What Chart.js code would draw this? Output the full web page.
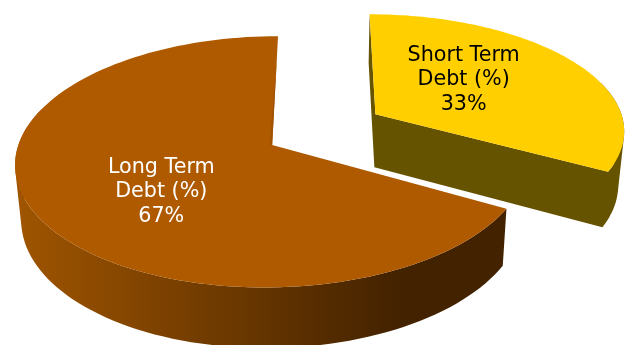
<!DOCTYPE html>
<html>
<head>
<meta charset="utf-8">
<title>Debt split</title>
<script src="https://cdn.jsdelivr.net/npm/chart.js@4"></script>
<style>
  html, body { margin: 0; padding: 0; background: #fff; overflow: hidden; }
  canvas { display: block; }
</style>
</head>
<body>
<canvas id="debtPie" width="628" height="345"></canvas>
<script>
// data
const categories = [['Short Term', 'Debt (%)'], ['Long Term', 'Debt (%)']];
const shares = [33, 67];

const sliceColors = ['#ffcf00', '#b05a00'];
const labelColors = ['#000000', '#ffffff'];

// perspective of the pie plane, in units of the pie radius
const topPlane = { x0: 322, y0: 131, a: 250, b: 119.7, k: 0.131 };
const bottomPlane = { x0: 322, y0: 184.7, a: 245, b: 125, k: 0.131 };

// small per-slice corrections: the far slice sits a bit flatter and higher
const sliceTweaks = [
  { depth: 0.97, dx: 1, dy: -2, labelDx: -6, labelDy: 2 },
  { depth: 1, dx: 0, dy: 0, labelDx: 0, labelDy: 3 }
];

function project(plane, u, v) {
  const s = 1 / (1 + plane.k * v);
  return { x: plane.x0 + plane.a * u * s, y: plane.y0 - plane.b * v * s };
}

// point on the rim (or inside, with r < 1) of an arc element, canvas angle
function rimPoint(plane, arc, angle, r, tweak) {
  const mid = (arc.startAngle + arc.endAngle) / 2;
  const off = arc.options.offset / arc.outerRadius;
  const u = off * Math.cos(mid) + r * Math.cos(angle);
  const v = -(off * Math.sin(mid) + r * tweak.depth * Math.sin(angle));
  const p = project(plane, u, v);
  return { x: p.x + tweak.dx, y: p.y + tweak.dy };
}

function tracePoly(ctx, pts) {
  ctx.moveTo(pts[0].x, pts[0].y);
  pts.slice(1).forEach(p => ctx.lineTo(p.x, p.y));
  ctx.closePath();
}

function polyArea(pts) {
  let area = 0;
  pts.forEach((p, i) => {
    const q = pts[(i + 1) % pts.length];
    area += p.x * q.y - q.x * p.y;
  });
  return area;
}

// same winding for every quad, so one fill covers them without seams
function traceQuad(ctx, quad) {
  if (polyArea(quad) < 0) quad.reverse();
  tracePoly(ctx, quad);
}

function wallFill(ctx, index) {
  if (index === 0) return '#665300';
  const g = ctx.createLinearGradient(15, 0, 400, 0);
  g.addColorStop(0, '#a05500');
  g.addColorStop(1, '#432200');
  return g;
}

const pie3d = {
  id: 'pie3d',
  beforeDatasetsDraw(chart) {
    const ctx = chart.ctx;
    const arcs = chart.getDatasetMeta(0).data;

    // far slice first, the near one paints over it
    for (let i = arcs.length - 1; i >= 0; i--) {
      drawSlice(ctx, arcs[i], i);
    }
    arcs.forEach((arc, i) => drawLabel(ctx, arc, i));
    return false;
  }
};

function drawSlice(ctx, arc, index) {
  const tweak = sliceTweaks[index];
  const steps = 120;
  const angles = [];
  for (let n = 0; n <= steps; n++) {
    angles.push(arc.startAngle + (arc.endAngle - arc.startAngle) * n / steps);
  }

  ctx.beginPath();

  // straight faces along the cut edges, only the short slice shows them
  if (index === 0) {
    [arc.startAngle, arc.endAngle].forEach(angle => {
      traceQuad(ctx, [
        rimPoint(topPlane, arc, angle, 0, tweak),
        rimPoint(topPlane, arc, angle, 1, tweak),
        rimPoint(bottomPlane, arc, angle, 1, tweak),
        rimPoint(bottomPlane, arc, angle, 0, tweak)
      ]);
    });
  }

  // outer wall; the back of it is hidden under the top face anyway
  for (let n = 0; n < steps; n++) {
    if (Math.sin(angles[n]) < -0.3) continue;
    traceQuad(ctx, [
      rimPoint(topPlane, arc, angles[n], 1, tweak),
      rimPoint(topPlane, arc, angles[n + 1], 1, tweak),
      rimPoint(bottomPlane, arc, angles[n + 1], 1, tweak),
      rimPoint(bottomPlane, arc, angles[n], 1, tweak)
    ]);
  }
  ctx.fillStyle = wallFill(ctx, index);
  ctx.fill();

  // top face
  ctx.beginPath();
  tracePoly(ctx, [rimPoint(topPlane, arc, arc.startAngle, 0, tweak)]
    .concat(angles.map(a => rimPoint(topPlane, arc, a, 1, tweak))));
  ctx.fillStyle = arc.options.backgroundColor;
  ctx.fill();

  // thin shaded strip along the vertical cut of the long slice
  if (index === 1) {
    const apex = rimPoint(topPlane, arc, arc.endAngle, 0, tweak);
    const edge = rimPoint(topPlane, arc, arc.endAngle, 0.8, tweak);
    ctx.beginPath();
    tracePoly(ctx, [edge, apex, { x: apex.x - 2.5, y: apex.y }]);
    ctx.fillStyle = '#a05200';
    ctx.fill();
  }
}

function drawLabel(ctx, arc, index) {
  const tweak = sliceTweaks[index];
  const mid = (arc.startAngle + arc.endAngle) / 2;
  const at = rimPoint(topPlane, arc, mid - 9 * Math.PI / 180, 0.53, tweak);
  const lines = categories[index].concat(shares[index] + '%');
  ctx.font = '20.7px "DejaVu Sans"';
  ctx.fillStyle = labelColors[index];
  ctx.textAlign = 'center';
  ctx.textBaseline = 'middle';
  lines.forEach((line, n) => {
    ctx.fillText(line, at.x + tweak.labelDx, at.y + tweak.labelDy + (n - 1) * 24.5);
  });
}

new Chart(document.getElementById('debtPie'), {
  type: 'pie',
  data: {
    labels: categories,
    datasets: [{
      data: shares,
      backgroundColor: sliceColors,
      borderWidth: 0,
      offset: [38, 35]
    }]
  },
  options: {
    responsive: false,
    animation: false,
    plugins: {
      legend: { display: false },
      tooltip: { enabled: false }
    }
  },
  plugins: [pie3d]
});
</script>
</body>
</html>
